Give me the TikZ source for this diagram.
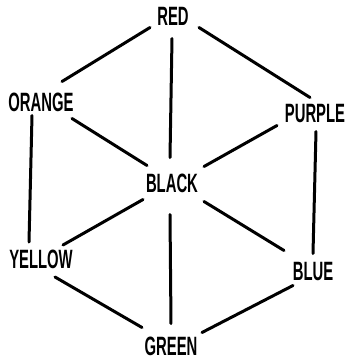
\documentclass[tikz,border=0pt]{standalone}
\usepackage{fontspec}
\setmainfont{Liberation Sans}
\newfontfamily\labfont[FakeStretch=0.56]{Liberation Sans Bold}
\begin{document}
\begin{tikzpicture}[x=1pt,y=-1pt,
  lab/.style={inner sep=0pt,font=\labfont\fontsize{26.5}{27}\selectfont},
  conn/.style={line width=3pt,line cap=round}]
\useasboundingbox (0,0) rectangle (348,360);
\node[lab] (red) at (173,16.5) {RED};
\node[lab] (orange) at (41,102.5) {ORANGE};
\node[lab] (purple) at (315,113.5) {PURPLE};
\node[lab] (black) at (172,183.5) {BLACK};
\node[lab] (yellow) at (41,259) {YELLOW};
\node[lab] (blue) at (313,271.5) {BLUE};
\node[lab] (green) at (171,346.5) {GREEN};
\draw[conn] ([shift={(-23,11)}]red.center) -- ([shift={(21,-21)}]orange.center);
\draw[conn] ([shift={(-1,22)}]red.center) -- ([shift={(-2,-26)}]black.center);
\draw[conn] ([shift={(26,11)}]red.center) -- ([shift={(-5,-16)}]purple.center);
\draw[conn] ([shift={(-9,13)}]orange.center) -- ([shift={(-12,-17)}]yellow.center);
\draw[conn] ([shift={(31,16)}]orange.center) -- ([shift={(-25,-18)}]black.center);
\draw[conn] ([shift={(-38,12)}]purple.center) -- ([shift={(32,-17)}]black.center);
\draw[conn] ([shift={(1,18)}]purple.center) -- ([shift={(0,-18)}]blue.center);
\draw[conn] ([shift={(-29,16)}]black.center) -- ([shift={(22,-14)}]yellow.center);
\draw[conn] ([shift={(-2,31)}]black.center) -- ([shift={(0,-23)}]green.center);
\draw[conn] ([shift={(32,18)}]black.center) -- ([shift={(-29,-21)}]blue.center);
\draw[conn] ([shift={(14,18)}]yellow.center) -- ([shift={(-29,-19)}]green.center);
\draw[conn] ([shift={(-20,14)}]blue.center) -- ([shift={(31,-14)}]green.center);
\end{tikzpicture}
\end{document}
